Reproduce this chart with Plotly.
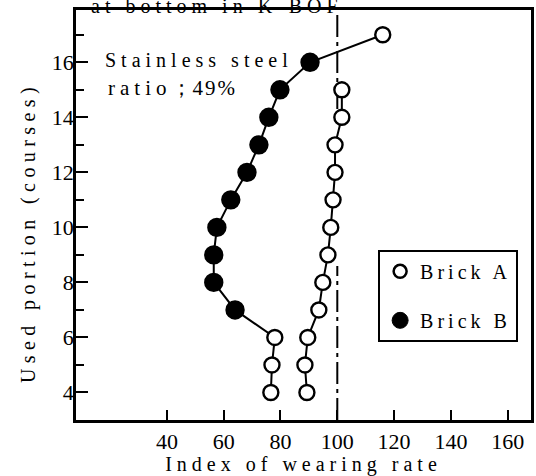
import plotly.graph_objects as go

# ---- data ----
courses_a = [4, 5, 6, 7, 8, 9, 10, 11, 12, 13, 14, 15]
brick_a = [89.3, 88.6, 89.6, 93.5, 94.9, 96.7, 97.7, 98.5, 99.2, 99.2, 101.6, 101.6]

courses_b = [4, 5, 6, 7, 8, 9, 10, 11, 12, 13, 14, 15, 16, 17]
brick_b = [76.6, 77.0, 78.0, 64.0, 56.5, 56.5, 57.6, 62.5, 68.2, 72.4, 75.9, 79.8, 90.4, 116.0]
brick_b_open_courses = [4, 5, 6, 17]   # points drawn as open circles

reference_index = 100                 # dash-dot reference line
reference_gap = [8.6, 14.3]           # courses where the reference line is not drawn

x_tick_vals = [40, 60, 80, 100, 120, 140, 160]
y_major_ticks = [4, 6, 8, 10, 12, 14, 16]
x_range = [8, 168.2]
y_range = [3, 17.9]

FONT = "Liberation Serif"


def spaced(text, px):
    return '<span style="letter-spacing:%spx">%s</span>' % (px, text)


fig = go.Figure()

# reference line x = 100 (two segments)
fig.add_trace(go.Scatter(
    x=[reference_index, reference_index, None, reference_index, reference_index],
    y=[y_range[0], reference_gap[0], None, reference_gap[1], y_range[1]],
    mode="lines", connectgaps=False,
    line=dict(color="black", width=2, dash="22px,5px,4px,5px"),
    showlegend=False, hoverinfo="skip",
))

# Brick A
fig.add_trace(go.Scatter(
    x=brick_a, y=courses_a, mode="lines+markers",
    line=dict(color="black", width=2),
    marker=dict(symbol="circle", size=15, color="white", opacity=1,
                line=dict(color="black", width=2.4)),
    showlegend=False,
))

# Brick B
b_open = [c in brick_b_open_courses for c in courses_b]
fig.add_trace(go.Scatter(
    x=brick_b, y=courses_b, mode="lines+markers",
    line=dict(color="black", width=2),
    marker=dict(symbol="circle", size=[15 if o else 17 for o in b_open],
                color=["white" if o else "black" for o in b_open], opacity=1,
                line=dict(color="black", width=2.4)),
    showlegend=False,
))

# legend entries
fig.add_trace(go.Scatter(
    x=[None], y=[None], mode="markers", name=spaced("Brick A", 4), legendgroup="a",
    marker=dict(symbol="circle", size=13, color="white", line=dict(color="black", width=2.5)),
))
fig.add_trace(go.Scatter(
    x=[None], y=[None], mode="markers", name=spaced("Brick B", 4), legendgroup="b",
    marker=dict(symbol="circle", size=16, color="black", line=dict(color="black", width=1)),
))

fig.update_layout(
    width=536, height=476,
    margin=dict(l=76, r=5, t=10, b=56, autoexpand=False),
    paper_bgcolor="white", plot_bgcolor="white",
    font=dict(family=FONT, color="black", size=20),
    showlegend=True,
    legend=dict(
        x=0.664, y=0.415, xanchor="left", yanchor="top",
        bordercolor="black", borderwidth=2, bgcolor="white",
        font=dict(family=FONT, size=20, color="black"),
        traceorder="grouped", tracegroupgap=20, itemsizing="trace",
    ),
    xaxis=dict(
        range=x_range, tickvals=x_tick_vals, ticks="inside", ticklen=10, tickwidth=2,
        tickcolor="black", showline=True, linecolor="black", linewidth=2.5, mirror=True,
        showgrid=False, zeroline=False, tickfont=dict(family=FONT, size=22),
        ticklabelstandoff=0, automargin=False,
        title=dict(text=spaced("Index of wearing rate", 5), font=dict(family=FONT, size=20),
                   standoff=2),
    ),
    yaxis=dict(
        range=y_range, tickvals=y_major_ticks, ticks="inside", ticklen=12, tickwidth=2,
        tickcolor="black", showline=True, linecolor="black", linewidth=2.5, mirror=True,
        showgrid=False, zeroline=False, tickfont=dict(family=FONT, size=22),
        ticklabelstandoff=-5, automargin=False,
        minor=dict(dtick=2, tick0=5, ticks="inside", ticklen=8, tickwidth=2, tickcolor="black",
                   showgrid=False),
    ),
    annotations=[
        # y-axis title
        dict(xref="paper", yref="paper", x=-0.1055, y=0.4585, xanchor="center",
             yanchor="middle", textangle=-90, showarrow=False,
             text=spaced("Used portion (courses)", 5.4), font=dict(family=FONT, size=20)),
        dict(xref="paper", yref="paper", x=0.059, y=0.878, xanchor="left", yanchor="middle",
             text=spaced("Stainless steel", 5), showarrow=False,
             font=dict(family=FONT, size=20)),
        dict(xref="paper", yref="paper", x=0.066, y=0.81, xanchor="left", yanchor="middle",
             text=spaced("ratio", 5) + "；" + spaced("49%", 2), showarrow=False,
             font=dict(family=FONT, size=21)),
        dict(xref="paper", yref="paper", x=0.31, y=1.0, xanchor="center", yanchor="bottom",
             yshift=-9, text=spaced("at bottom in K-BOF", 5), showarrow=False,
             font=dict(family=FONT, size=20)),
    ],
)

fig.write_html("out.html", config={"displayModeBar": False},
               post_script="document.body.style.margin='0';")
